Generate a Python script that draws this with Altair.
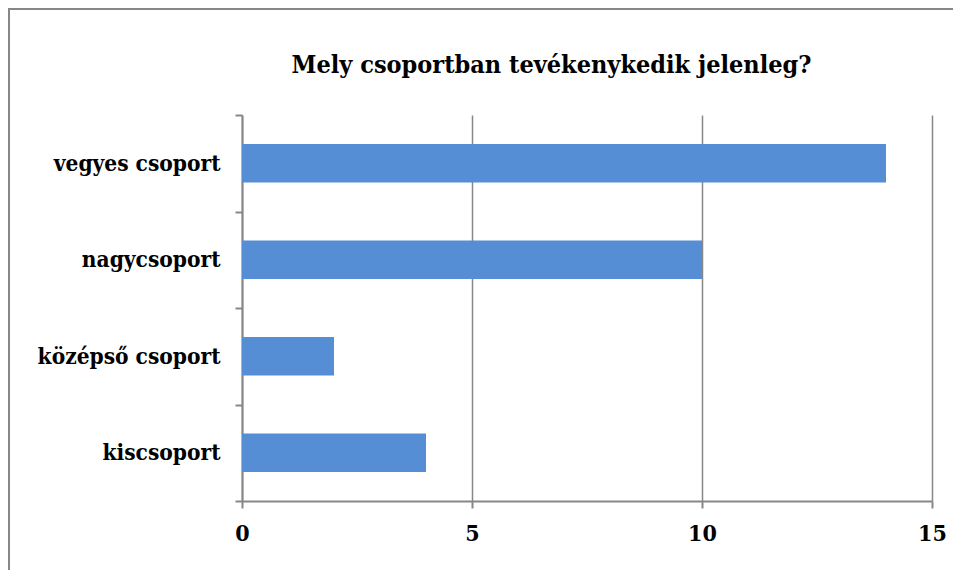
import altair as alt
import pandas as pd

categories = ["vegyes csoport", "nagycsoport", "középső csoport", "kiscsoport"]
values = [14, 10, 2, 4]
x_ticks = [0, 5, 10, 15]
title_text = ["Mely csoportban tevékenykedik jelenleg?"]

df = pd.DataFrame({"group": categories, "count": values})
tdf = pd.DataFrame({"t": title_text})

GRAY = "#878787"
FONT = "DejaVu Serif Condensed, DejaVu Serif"

frame_left = alt.Chart(tdf).mark_rule(stroke=GRAY, strokeWidth=2, clip=False).encode(
    x=alt.value(-233), y=alt.value(-106), y2=alt.value(500)
)
frame_top = alt.Chart(tdf).mark_rule(stroke=GRAY, strokeWidth=2, clip=False).encode(
    x=alt.value(-234), x2=alt.value(760), y=alt.value(-106)
)

bars = alt.Chart(df).mark_bar(color="#558ED5", height={"band": 0.4}).encode(
    x=alt.X(
        "count:Q",
        scale=alt.Scale(domain=[0, 15], nice=False),
        axis=alt.Axis(
            values=x_ticks, title=None, grid=True, gridColor=GRAY, gridWidth=1.5,
            domainColor=GRAY, domainWidth=2, tickColor=GRAY, tickWidth=2, tickSize=7,
            labelFont=FONT, labelFontSize=23, labelFontWeight="bold", labelColor="black",
            labelPadding=14, labelFlush=False,
        ),
    ),
    y=alt.Y(
        "group:N",
        sort=categories,
        scale=alt.Scale(paddingInner=0, paddingOuter=0),
        axis=alt.Axis(
            title=None, tickBand="extent", grid=False,
            domainColor=GRAY, domainWidth=2, tickColor=GRAY, tickWidth=2, tickSize=7,
            labelFont=FONT, labelFontSize=22.5, labelFontWeight="bold", labelColor="black",
            labelPadding=15, labelLimit=400,
        ),
    ),
)

title = alt.Chart(tdf).mark_text(
    font=FONT, fontSize=25, fontWeight="bold", align="center", baseline="alphabetic", color="black"
).encode(x=alt.value(309.5), y=alt.value(-42), text="t:N")

chart = alt.layer(frame_left, frame_top, bars, title).properties(
    width=690, height=386,
    padding={"left": 234, "top": 107, "right": 21, "bottom": 69},
    autosize="none",
).configure_view(strokeWidth=0)

chart.save("out.html", embed_options={"renderer": "svg", "actions": False})
